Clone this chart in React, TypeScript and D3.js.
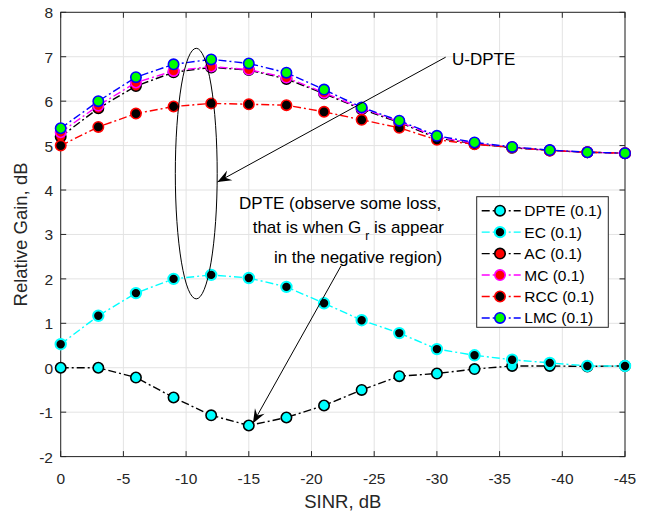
import React from "react";
import * as d3 from "d3";

const sinr = [0, -3, -6, -9, -12, -15, -18, -21, -24, -27, -30, -33, -36, -39, -42, -45];
const dpte = [0.0, 0.0, -0.22, -0.67, -1.07, -1.3, -1.12, -0.85, -0.5, -0.19, -0.13, -0.03, 0.04, 0.04, 0.03, 0.04];
const ec = [0.53, 1.17, 1.68, 2.0, 2.09, 2.02, 1.82, 1.45, 1.07, 0.78, 0.42, 0.28, 0.18, 0.11, 0.04, 0.04];
const ac = [5.2, 5.84, 6.34, 6.65, 6.76, 6.7, 6.5, 6.17, 5.82, 5.52, 5.17, 5.04, 4.95, 4.89, 4.85, 4.83];
const mc = [5.3, 5.9, 6.42, 6.68, 6.78, 6.71, 6.53, 6.19, 5.84, 5.54, 5.19, 5.05, 4.96, 4.89, 4.85, 4.83];
const rcc = [5.0, 5.42, 5.72, 5.88, 5.95, 5.93, 5.91, 5.76, 5.58, 5.4, 5.13, 5.03, 4.96, 4.89, 4.85, 4.83];
const lmc = [5.39, 6.0, 6.54, 6.83, 6.94, 6.85, 6.64, 6.26, 5.86, 5.56, 5.22, 5.07, 4.97, 4.9, 4.85, 4.83];

const xTicks = [0, -5, -10, -15, -20, -25, -30, -35, -40, -45];
const yTicks = [-2, -1, 0, 1, 2, 3, 4, 5, 6, 7, 8];

const seriesNames = ["DPTE (0.1)", "EC (0.1)", "AC (0.1)", "MC (0.1)", "RCC (0.1)", "LMC (0.1)"];
const seriesValues = [dpte, ec, ac, mc, rcc, lmc];
const lineColors = ["#000000", "#00ffff", "#000000", "#ff00ff", "#ff0000", "#0000ff"];
const markerEdges = ["#000000", "#00ffff", "#000000", "#ff00ff", "#ff0000", "#0000ff"];
const markerFills = ["#00ffff", "#000000", "#ff0000", "#ff0000", "#000000", "#00ff00"];

const FONT = "'Liberation Sans', Arial, Helvetica, sans-serif";
const AX = "#262626";

function arrowHead(x1: number, y1: number, x2: number, y2: number) {
  const ang = Math.atan2(y2 - y1, x2 - x1);
  const L = 14, W = 5.5, N = 9;
  const ux = Math.cos(ang), uy = Math.sin(ang);
  const px = -uy, py = ux;
  const bx = x2 - ux * L, by = y2 - uy * L;
  const nx = x2 - ux * N, ny = y2 - uy * N;
  return `M${x2},${y2}L${bx + px * W},${by + py * W}L${nx},${ny}L${bx - px * W},${by - py * W}Z`;
}

export default function App() {
  const W = 650, H = 511;
  const left = 60.7, right = 625, top = 12.3, bottom = 456.6;
  const x = d3.scaleLinear().domain([0, -45]).range([left, right]);
  const y = d3.scaleLinear().domain([-2, 8]).range([bottom, top]);
  const line = d3.line<number>().x((_, i) => x(sinr[i])).y((d) => y(d));

  // annotations in data coordinates
  const a1s = [x(-30.7), y(6.99)];
  const a1e = [x(-12.5), y(4.18)];
  const a2s = [x(-22.35), y(2.29)];
  const a2e = [x(-15.33), y(-1.25)];
  const ell = { cx: x(-10.81), cy: y(4.37), rx: x(0) - x(1.67) , ry: y(0) - y(2.82) };

  const legX = 476.7, legY = 196.7, legW = 131.6, legH = 130.6;
  const rowH = 21.45;

  return (
    <svg width={W} height={H} style={{ position: "absolute", left: 0, top: 0, background: "#fff" }} fontFamily={FONT}>
      <rect x={0} y={0} width={W} height={H} fill="#fff" />
      {/* grid */}
      {xTicks.map((t) => (
        <line key={"gx" + t} x1={x(t)} x2={x(t)} y1={top} y2={bottom} stroke="#e3e3e3" strokeWidth={1} />
      ))}
      {yTicks.map((t) => (
        <line key={"gy" + t} x1={left} x2={right} y1={y(t)} y2={y(t)} stroke="#e3e3e3" strokeWidth={1} />
      ))}
      {/* ticks */}
      {xTicks.map((t) => (
        <g key={"tx" + t}>
          <line x1={x(t)} x2={x(t)} y1={bottom} y2={bottom - 5.5} stroke={AX} />
          <line x1={x(t)} x2={x(t)} y1={top} y2={top + 5.5} stroke={AX} />
          <text x={x(t)} y={bottom + 27} textAnchor="middle" fontSize={15.5} fill={AX}>{t}</text>
        </g>
      ))}
      {yTicks.map((t) => (
        <g key={"ty" + t}>
          <line x1={left} x2={left + 5.5} y1={y(t)} y2={y(t)} stroke={AX} />
          <line x1={right} x2={right - 5.5} y1={y(t)} y2={y(t)} stroke={AX} />
          <text x={53} y={y(t) + 6} textAnchor="end" fontSize={15.5} fill={AX}>{t}</text>
        </g>
      ))}
      <rect x={left} y={top} width={right - left} height={bottom - top} fill="none" stroke={AX} strokeWidth={1} />
      <text x={(left + right) / 2} y={508} textAnchor="middle" fontSize={18.5} fill={AX}>SINR, dB</text>
      <text transform={`translate(27,${(top + bottom) / 2}) rotate(-90)`} textAnchor="middle" fontSize={18.5} fill={AX}>Relative Gain, dB</text>

      {/* series */}
      {seriesValues.map((vals, si) => (
        <g key={"s" + si}>
          <path d={line(vals) || ""} fill="none" stroke={lineColors[si]} strokeWidth={1.4} strokeDasharray="8,3,2,3" />
          {vals.map((v, i) => (
            <circle key={i} cx={x(sinr[i])} cy={y(v)} r={5.2} fill={markerFills[si]} stroke={markerEdges[si]} strokeWidth={si === 1 ? 2 : 1.6} />
          ))}
        </g>
      ))}

      {/* annotations */}
      <ellipse cx={ell.cx} cy={ell.cy} rx={ell.rx} ry={ell.ry} fill="none" stroke="#000" strokeWidth={1} />
      <line x1={a1s[0]} y1={a1s[1]} x2={a1e[0]} y2={a1e[1]} stroke="#000" strokeWidth={1} />
      <path d={arrowHead(a1s[0], a1s[1], a1e[0], a1e[1])} fill="#000" />
      <text x={x(-31.2)} y={y(6.81)} fontSize={17} fill="#000">U-DPTE</text>
      <line x1={a2s[0]} y1={a2s[1]} x2={a2e[0]} y2={a2e[1]} stroke="#000" strokeWidth={1} />
      <path d={arrowHead(a2s[0], a2s[1], a2e[0], a2e[1])} fill="#000" />
      <text x={x(-14.22)} y={y(3.57)} fontSize={17} fill="#000">DPTE (observe some loss,</text>
      <text x={x(-15.31)} y={y(3.04)} fontSize={17} fill="#000">
        that is when G
        <tspan dx={4} dy={7} fontSize={12}>r</tspan>
        <tspan dy={-7}> is appear</tspan>
      </text>
      <text x={x(-17.0)} y={y(2.35)} fontSize={17} fill="#000">in the negative region)</text>

      {/* legend */}
      <rect x={legX} y={legY} width={legW} height={legH} fill="#fff" stroke={AX} strokeWidth={1} />
      {seriesNames.map((name, si) => {
        const cy = legY + 14 + si * rowH;
        return (
          <g key={"l" + si}>
            <line x1={legX + 5} x2={legX + 44} y1={cy} y2={cy} stroke={lineColors[si]} strokeWidth={1.4} strokeDasharray="8,3,2,3" />
            <circle cx={legX + 23.3} cy={cy} r={5.2} fill={markerFills[si]} stroke={markerEdges[si]} strokeWidth={si === 1 ? 2 : 1.6} />
            <text x={legX + 47.6} y={cy + 5.5} fontSize={15.5} fill="#000">{name}</text>
          </g>
        );
      })}
    </svg>
  );
}
